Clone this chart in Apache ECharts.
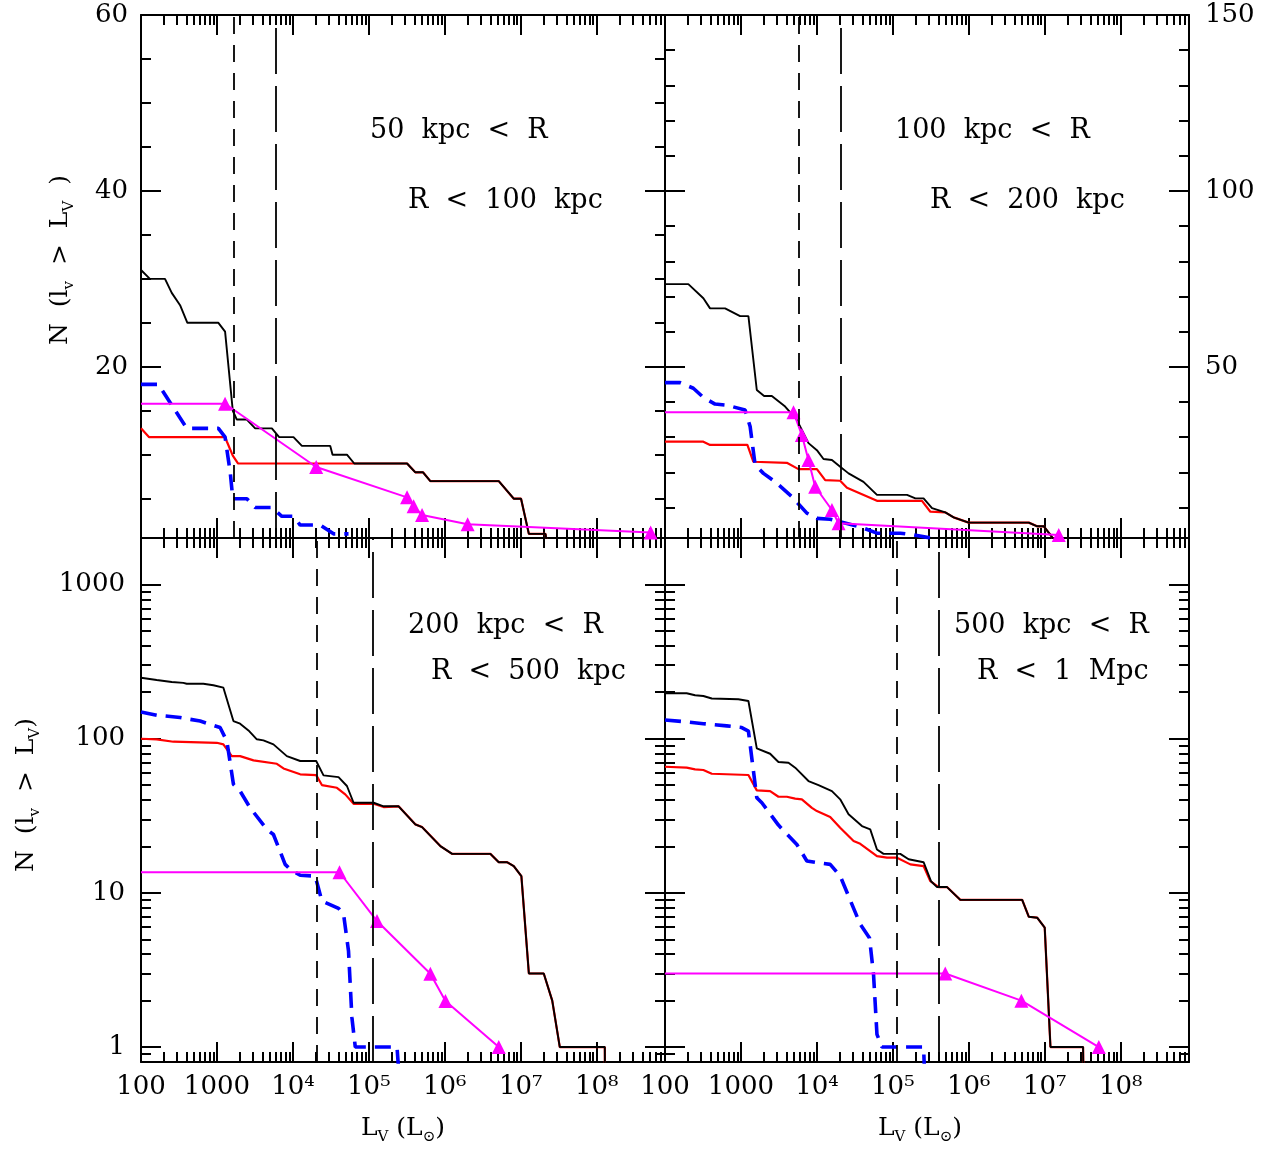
<!DOCTYPE html>
<html><head><meta charset="utf-8">
<script src="https://cdn.jsdelivr.net/npm/echarts@6/dist/echarts.min.js"></script>
<style>html,body{margin:0;padding:0;background:#fff}#c{width:1277px;height:1149px}</style>
</head><body><div id="c"></div>
<script>
// ---------------- data (L_V in L_sun, N) ----------------
// Panel 1: 50 kpc < R < 100 kpc
const p1Black = [[100,31],[131,30],[207,30],[254,28.4],[327,27],[408,25],[1045,25],[1280,24],[1617,15],[1827,14],[2476,14],[3187,13],[5286,13],[6596,12],[10190,12],[13140,11],[31050,11],[33280,10],[51500,10],[64300,9],[318700,9],[409500,8],[517000,8],[645700,7],[5.14e6,7],[8.1e6,5],[1.01e7,5],[1.28e7,1],[2.12e7,1],[2.2e7,0]];
const p1Red = [[100,13],[128,12],[1280,12],[1350,11.5],[1617,9.9],[1900,9],[318700,9],[409500,8],[517000,8],[645700,7],[5.14e6,7],[8.1e6,5],[1.01e7,5],[1.28e7,1],[2.12e7,1],[2.2e7,0]];
const p1Blue = [[100,18],[169,18],[401,13],[1045,13],[1280,12],[1500,7.9],[1617,5],[2476,5],[3187,4],[5286,4],[7160,3],[10190,3],[12480,2],[22900,2],[34300,1],[54000,1]];
const p1Model = [[100,15.8],[1280,15.8],[20270,8.6],[318500,5.15],[389000,4.15],[502000,3.15],[2.0e6,2.1],[5.14e8,1.15]];
const p1Limits = [1650, 6000];

// Panel 2: 100 kpc < R < 200 kpc
const p2Black = [[100,73.5],[203,73.5],[320,69.5],[392,66.6],[618,66.6],[975,64.4],[1254,64.4],[1617,43.4],[2018,41.7],[2550,41.7],[3820,38.7],[5450,34.9],[7750,28.3],[10000,26.3],[12220,23.8],[15770,23.5],[20270,21.6],[26120,19.7],[41100,17.3],[61800,13.6],[153800,13.6],[198000,12.6],[254000,12.6],[328000,9.8],[491000,8.6],[632000,7.2],[997000,5.7],[6.17e6,5.7],[7.95e6,4.65],[9.72e6,4.65],[1.19e7,2.2],[1.3e7,1],[1.6e7,1],[1.65e7,0]];
const p2Red = [[100,28.7],[320,28.7],[392,27.8],[1216,27.8],[1459,23],[4020,22.7],[5720,20.9],[10000,20.9],[12860,17.8],[20270,17.6],[24880,15.6],[61800,11.9],[242000,11.9],[312000,8.8],[491000,8.6],[632000,7.2],[997000,5.7],[6.17e6,5.7],[7.95e6,4.65],[9.72e6,4.65],[1.19e7,2.2],[1.3e7,1],[1.6e7,1],[1.65e7,0]];
const p2Blue = [[100,45.5],[158,45.5],[236,43.9],[320,41.3],[456,39.4],[650,39.1],[1135,37.7],[1321,33],[1538,22.1],[1978,19.7],[2820,17.3],[4680,13.1],[7380,8.4],[10000,6.9],[14970,6.65],[37250,4.5],[61800,2.7],[125400,2.7],[188000,2.2],[341000,1.2]];
const p2Model = [[100,37.1],[4920,37.1],[6340,30.6],[7740,23.5],[9500,15.9],[15780,9.3],[19300,5.5],[1.53e7,2.2]];
const p2Limits = [5850, 20500];

// Panel 3: 200 kpc < R < 500 kpc
const p3Tail = [[246600,36.4],[409000,27.8],[502000,26.7],[875000,20.1],[1.25e6,17.9],[3.99e6,17.9],[5.14e6,15.8],[6.63e6,15.8],[8.1e6,14.9],[1.02e7,12.85],[1.28e7,3],[2.01e7,3],[2.6e7,2],[3.27e7,1],[1.28e8,1],[1.29e8,0.5]];
const p3BlackHead = [[100,248],[161,240],[254,233],[361,230],[400,227],[662,227],[898,222],[1216,214],[1648,130],[2018,125],[2600,113],[3350,99],[4094,97.5],[5546,91.8],[8330,77],[12480,71.6],[20270,71.6],[25300,57.8],[39900,56.3],[51500,49.3],[63000,38.4],[115600,38.4],[156400,36.4]];
const p3RedHead = [[100,99.8],[161,99],[267,95.5],[995,94],[1216,91.8],[1570,77],[2018,77],[3030,72.3],[6150,68.7],[7520,64.1],[12480,58.7],[20270,58],[24100,50],[38000,48],[48900,43.5],[63000,37.8],[115600,37.8],[156400,36]];
const p3Blue = [[100,149],[161,142],[327,137],[600,130],[1100,118],[1350,96.5],[1648,50.6],[2018,45.7],[2735,35.6],[4540,25.8],[5546,23.9],[7910,15.3],[9200,14.2],[12480,13],[19680,12.85],[24100,8.85],[39900,7.94],[46500,7.26],[54000,4.2],[59900,1.55],[66300,1],[235000,1],[260000,0.5]];
const p3Model = [[100,13.6],[41100,13.6],[128000,6.56],[646000,2.99],[1.02e6,1.99],[5.14e6,1]];
const p3Limits = [20500, 113000];

// Panel 4: 500 kpc < R < 1 Mpc
const p4Tail = [[517000,10.9],[774000,9],[5.05e6,9],[6.17e6,7],[7.95e6,6.9],[1.0e7,5.95],[1.19e7,1],[3.2e7,1],[3.25e7,0.5]];
const p4BlackHead = [[100,197],[193,197],[249,191],[320,189],[413,182],[925,180],[1254,175.5],[1617,86.5],[2423,79.8],[3117,70.5],[4225,69.8],[5180,64.8],[7750,53.1],[10500,50],[15770,45.7],[20270,40.4],[26120,32.3],[39200,27.1],[50400,25.8],[61800,19.1],[75500,17.9],[125400,17.9],[161300,16.5],[254000,15.8],[318000,11.9],[382000,10.9]];
const p4RedHead = [[100,65.7],[193,64.8],[249,63.2],[320,62.6],[413,59.2],[1254,58.1],[1617,46.2],[2423,45.7],[3117,42],[4020,42],[5180,40.8],[6340,40.4],[8590,35.6],[10000,33.9],[14970,31],[20270,26.4],[30400,21.7],[37250,20.8],[61800,17.3],[83700,16.9],[113500,16.9],[170000,15.3],[254000,14.9],[312000,11.9],[401000,10.9]];
const p4Blue = [[100,132],[174,129],[320,125],[650,121],[1025,118],[1254,112],[1617,41.4],[1884,38.4],[3117,27.5],[5450,20.6],[7380,16.1],[10000,15.7],[14970,15.3],[20270,12.85],[37250,6.25],[49300,5.1],[55700,2.96],[61800,1.21],[71900,1],[254000,1],[268000,0.5]];
const p4Model = [[100,3],[490000,3],[4.93e6,2],[5.16e7,1]];
const p4Limits = [113000, 406000];

// ---------------- axes / ticks ----------------
const X_RANGE = [100, 7.94e8];
const Y_TOPL_RANGE = [0.53, 60];
const Y_TOPR_RANGE = [1.33, 150];
const Y_LOG_RANGE = [0.8, 2000];
const xTickExps = [2,3,4,5,6,7,8];
const xTickLabels = ['100','1000','10⁴','10⁵','10⁶','10⁷','10⁸'];
const yLogTickExps = [0,1,2,3];
const yLogTickLabels = ['1','10','100','1000'];
const yTLMajor = [20,40,60];
const yTLMinor = [5,10,15,25,30,35,45,50,55];
const yTRMajor = [50,100,150];
const yTRMinor = [10,20,30,40,60,70,80,90,110,120,130,140];
const panelText = [
  ['50  kpc  <  R','R  <  100  kpc'],
  ['100  kpc  <  R','R  <  200  kpc'],
  ['200  kpc  <  R','R  <  500  kpc'],
  ['500  kpc  <  R','R  <  1  Mpc']
];

const FONT = '"DejaVu Serif", "Liberation Serif", serif';
const lg = Math.log10;

function logMinors(lo, hi) {
  const out = [];
  for (let e = Math.floor(lo); e <= Math.ceil(hi); e++) {
    for (let k = 2; k <= 9; k++) {
      const v = e + lg(k);
      if (v > lo && v < hi) out.push(v);
    }
  }
  return out;
}
const xLogLo = lg(X_RANGE[0]), xLogHi = lg(X_RANGE[1]);
const yLogLo = lg(Y_LOG_RANGE[0]), yLogHi = lg(Y_LOG_RANGE[1]);
const xMinor = logMinors(xLogLo, xLogHi);
const yMinorLog = logMinors(yLogLo, yLogHi);

const grids = [
  {left:141, top:15, width:524, height:523},
  {left:665, top:15, width:524, height:523},
  {left:141, top:538, width:524, height:524},
  {left:665, top:538, width:524, height:524}
].map(g => Object.assign({outerBoundsMode:'none', containLabel:false}, g));

const tickStyle = {color:'#000', width:2};
const labelStyle = {fontFamily: FONT, fontSize: 26, color:'#000'};

function helperAxis(g, pos, min, max, major, minorFlag, ticks, label) {
  return {
    type:'value', gridIndex:g, position:pos, min:min, max:max, silent:true,
    splitLine:{show:false}, splitArea:{show:false},
    axisLine:{show:!minorFlag, onZero:false, lineStyle:{color:'#000', width:2}},
    axisTick:{show:true, inside:true, length: minorFlag ? 10 : 20, customValues: ticks, lineStyle: tickStyle},
    axisLabel: label ? Object.assign({show:true, customValues: ticks}, labelStyle, label) : {show:false}
  };
}

const xAxes = [], yAxes = [];
for (let g = 0; g < 4; g++) {
  const bottomRow = g >= 2;
  xAxes.push({type:'log', logBase:10, gridIndex:g, min:X_RANGE[0], max:X_RANGE[1], show:false, axisLine:{onZero:false}});
  const xl = bottomRow ? {margin:12, formatter: v => xTickLabels[xTickExps.indexOf(Math.round(v))]} : null;
  xAxes.push(helperAxis(g,'bottom',xLogLo,xLogHi,true,false,xTickExps,xl));
  xAxes.push(helperAxis(g,'bottom',xLogLo,xLogHi,false,true,xMinor,null));
  xAxes.push(helperAxis(g,'top',xLogLo,xLogHi,true,false,xTickExps,null));
  xAxes.push(helperAxis(g,'top',xLogLo,xLogHi,false,true,xMinor,null));

  if (!bottomRow) {
    const R = g === 0 ? Y_TOPL_RANGE : Y_TOPR_RANGE;
    const maj = g === 0 ? yTLMajor : yTRMajor;
    const mnr = g === 0 ? yTLMinor : yTRMinor;
    yAxes.push({type:'value', gridIndex:g, min:R[0], max:R[1], show:false, axisLine:{onZero:false}});
    yAxes.push(helperAxis(g,'left',R[0],R[1],true,false,maj, g===0 ? {margin:13} : null));
    yAxes.push(helperAxis(g,'left',R[0],R[1],false,true,mnr,null));
    yAxes.push(helperAxis(g,'right',R[0],R[1],true,false,maj, g===1 ? {margin:16} : null));
    yAxes.push(helperAxis(g,'right',R[0],R[1],false,true,mnr,null));
  } else {
    yAxes.push({type:'log', logBase:10, gridIndex:g, min:Y_LOG_RANGE[0], max:Y_LOG_RANGE[1], show:false, axisLine:{onZero:false}});
    const yl = g === 2 ? {margin:16, formatter: v => yLogTickLabels[yLogTickExps.indexOf(Math.round(v))]} : null;
    yAxes.push(helperAxis(g,'left',yLogLo,yLogHi,true,false,yLogTickExps,yl));
    yAxes.push(helperAxis(g,'left',yLogLo,yLogHi,false,true,yMinorLog,null));
    yAxes.push(helperAxis(g,'right',yLogLo,yLogHi,true,false,yLogTickExps,null));
    yAxes.push(helperAxis(g,'right',yLogLo,yLogHi,false,true,yMinorLog,null));
  }
}

const panels = [
  {black:p1Black, red:p1Red, blue:p1Blue, model:p1Model, lim:p1Limits},
  {black:p2Black, red:p2Red, blue:p2Blue, model:p2Model, lim:p2Limits},
  {black:p3BlackHead.concat(p3Tail), red:p3RedHead.concat(p3Tail), blue:p3Blue, model:p3Model, lim:p3Limits},
  {black:p4BlackHead.concat(p4Tail), red:p4RedHead.concat(p4Tail), blue:p4Blue, model:p4Model, lim:p4Limits}
];

const series = [];
panels.forEach((p, g) => {
  const base = {type:'line', xAxisIndex:g*5, yAxisIndex:g*5, symbol:'none', showSymbol:false, silent:true, animation:false, clip:true, z:3};
  series.push(Object.assign({}, base, {name:'red'+g, data:p.red, lineStyle:{color:'#ff0000', width:2.2}}));
  series.push(Object.assign({}, base, {name:'black'+g, data:p.black, lineStyle:{color:'#000000', width:1.9},
    markLine:{silent:true, symbol:['none','none'], label:{show:false}, animation:false,
      lineStyle:{color:'#000', width:1.8},
      data:[{xAxis:p.lim[0], lineStyle:{type:[17,11], color:'#000', width:1.8}},
            {xAxis:p.lim[1], lineStyle:{type:[46,12], color:'#000', width:1.8}}]}}));
  series.push(Object.assign({}, base, {name:'blue'+g, data:p.blue, lineStyle:{color:'#0000ff', width:3.6, type:[16,9]}}));
  series.push(Object.assign({}, base, {name:'model'+g, symbol:'triangle', showSymbol:true, symbolSize:14,
    itemStyle:{color:'#ff00ff'}, lineStyle:{color:'#ff00ff', width:2}, z:4,
    data: p.model.map((pt, i) => i === 0 ? {value:pt, symbol:'none'} : {value:pt})}));
});

const subRich = {
  n:{fontFamily:FONT, fontSize:25, lineHeight:34, verticalAlign:'middle', fill:'#000', color:'#000'},
  s:{fontFamily:FONT, fontSize:15, lineHeight:15, verticalAlign:'bottom', fill:'#000', color:'#000'}
};
function txt(x, y, text, opts) {
  return Object.assign({type:'text', x:x, y:y, silent:true, z:10,
    style:{text:text, fontFamily:FONT, fontSize:27, fill:'#000', align:'left', textAlign:'left', verticalAlign:'middle', textVerticalAlign:'middle'}}, opts || {});
}
function rt(x, y, text, rot) {
  return {type:'text', x:x, y:y, rotation:rot || 0, silent:true, z:10,
    style:{text:text, rich:subRich, align:'center', textAlign:'center', verticalAlign:'middle', textVerticalAlign:'middle'}};
}
const graphics = [
  txt(370,131,panelText[0][0]), txt(408,201,panelText[0][1]),
  txt(895,131,panelText[1][0]), txt(930,201,panelText[1][1]),
  txt(408,626,panelText[2][0]), txt(431,672,panelText[2][1]),
  txt(954,626,panelText[3][0]), txt(977,672,panelText[3][1]),
  rt(60, 260, '{n|N  (l}{s|v}{n|  >  L}{s|V}{n|  )}', Math.PI/2),
  rt(26, 795, '{n|N  (l}{s|v}{n|  >  L}{s|V}{n|)}', Math.PI/2),
  rt(403, 1128, '{n|L}{s|V}{n| (L}{s|⊙}{n|)}'),
  rt(920, 1128, '{n|L}{s|V}{n| (L}{s|⊙}{n|)}')
];

const chart = echarts.init(document.getElementById('c'), null, {renderer:'canvas'});
chart.setOption({
  animation:false,
  backgroundColor:'#ffffff',
  grid: grids,
  xAxis: xAxes,
  yAxis: yAxes,
  series: series,
  graphic: graphics
});
</script></body></html>
